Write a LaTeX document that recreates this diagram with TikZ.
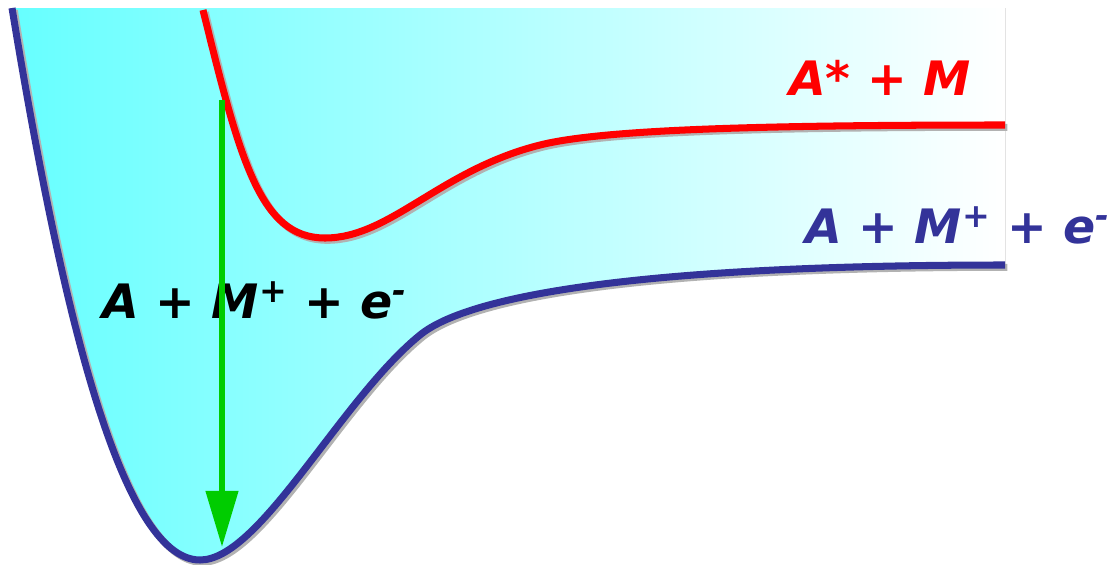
\documentclass[tikz,border=0pt]{standalone}
\usepackage{fontspec}
\newfontfamily\comicfont{DejaVu Sans}
\usepackage{xcolor}
\definecolor{wellc}{HTML}{66FFFF}
\definecolor{groundc}{HTML}{333399}
\definecolor{excitedc}{HTML}{FF0000}
\definecolor{arrowc}{HTML}{00CC00}
\usepackage{tikz}
\usetikzlibrary{arrows.meta}

\begin{document}
\begin{tikzpicture}[x=0.02cm,y=-0.02cm,every node/.style={font=\comicfont\bfseries\itshape\fontsize{27}{30}\selectfont}]
\tikzstyle{curve}=[line width=4pt,line cap=butt,preaction={draw=black!30,line width=4pt,transform canvas={xshift=1.3pt,yshift=-1.3pt}}]
\useasboundingbox (0,0) rectangle (1117,565);
% filled well between the curves
\fill[left color=wellc,right color=white] (12,8) .. controls (60,300) and (120,560) .. (200,560)
  .. controls (260,560) and (340,400) .. (420,335) .. controls (470,294) and (650,265) .. (1005,265)
  -- (1005,8) -- cycle;
% ground state
\draw[curve,groundc] (12,8) .. controls (60,300) and (120,560) .. (200,560)
  .. controls (260,560) and (340,400) .. (420,335) .. controls (470,294) and (650,265) .. (1005,265);
% excited state
\draw[curve,excitedc] (203,10) .. controls (240,160) and (260,238) .. (325,238)
  .. controls (390,238) and (440,170) .. (540,145) .. controls (600,130) and (750,125) .. (1005,125);
\node[excitedc] (upper) at (880,78) {A*~+~M};
\node[groundc] (lower) at (958,225) {A~+~M\textsuperscript{+}~+~e\textsuperscript{-}};
\node[black] (inner) at (255,300) {A~+~M\textsuperscript{+}~+~e\textsuperscript{-}};
\coordinate (top) at (222,100);
\coordinate (bottom) at (222,547);
\draw[-{Triangle[length=32pt,width=18pt]},arrowc,line width=3.4pt] (top)--(bottom);
\end{tikzpicture}
\end{document}
